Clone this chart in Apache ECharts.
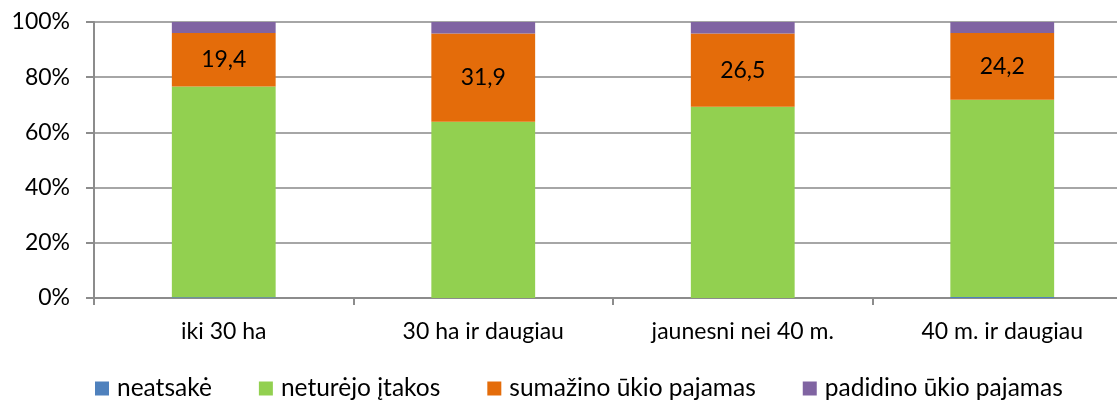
<!DOCTYPE html>
<html>
<head>
<meta charset="utf-8">
<script src="https://cdn.jsdelivr.net/npm/echarts@6/dist/echarts.min.js"></script>
<style>
  html, body { margin: 0; padding: 0; background: #fff; overflow: hidden; }
  /* originalas nukirptas dešinėje, todėl drobė platesnė už langą */
  #chart { width: 1132px; height: 400px; }
</style>
</head>
<body>
<div id="chart"></div>
<script>
// kategorijos ir reikšmės (%)
const categories = ['iki 30 ha', '30 ha ir daugiau', 'jaunesni nei 40 m.', '40 m. ir daugiau'];
const seriesNames = ['neatsakė', 'neturėjo įtakos', 'sumažino ūkio pajamas', 'padidino ūkio pajamas'];
const neatsake = [0.3, 0, 0, 0.4];
const neturejo = [76.3, 63.9, 69.3, 71.4];
const sumazino = [19.4, 31.9, 26.5, 24.2];
const padidino = [4.0, 4.2, 4.2, 4.0];
const yTicks = [0, 20, 40, 60, 80, 100];

const colors = ['#4f81bd', '#92d050', '#e46c0a', '#8064a2'];
const font = 'Lato, "Open Sans", sans-serif';

const chart = echarts.init(document.getElementById('chart'));

function makeSeries(name, data, color, withLabel) {
    return {
        name: name,
        type: 'bar',
        stack: 'total',
        barWidth: '40%',
        itemStyle: { color: color },
        label: {
            show: withLabel,
            position: 'inside',
            color: '#000',
            fontSize: 23,
            fontFamily: font,
            formatter: p => p.value.toFixed(1).replace('.', ',')
        },
        data: data
    };
}

const option = {
    animation: false,
    textStyle: { fontFamily: font },
    grid: { left: 94, top: 22, right: 0, height: 276 },
    legend: {
        data: seriesNames,
        top: 371,
        left: 90,
        icon: 'rect',
        itemWidth: 14,
        itemHeight: 14,
        itemGap: 47,
        textStyle: { fontSize: 24.5, color: '#000', fontFamily: font, padding: [0, 0, 0, 3] }
    },
    xAxis: {
        type: 'category',
        data: categories,
        axisLine: { lineStyle: { color: '#8c8c8c', width: 2 } },
        axisTick: { show: true, length: 7, lineStyle: { color: '#8c8c8c', width: 2 } },
        axisLabel: { color: '#000', fontSize: 23, margin: 22, fontFamily: font }
    },
    yAxis: {
        type: 'value',
        min: yTicks[0],
        max: yTicks[yTicks.length - 1],
        interval: 20,
        axisLine: { show: true, lineStyle: { color: '#8c8c8c', width: 2 } },
        axisTick: { show: true, length: 8, lineStyle: { color: '#8c8c8c', width: 2 } },
        axisLabel: { color: '#000', fontSize: 23, margin: 24, fontFamily: font, formatter: '{value}%' },
        splitLine: { lineStyle: { color: '#a6a6a6', width: 2 } }
    },
    series: [
        makeSeries(seriesNames[0], neatsake, colors[0], false),
        makeSeries(seriesNames[1], neturejo, colors[1], false),
        makeSeries(seriesNames[2], sumazino, colors[2], true),
        makeSeries(seriesNames[3], padidino, colors[3], false)
    ]
};

chart.setOption(option);
</script>
</body>
</html>
